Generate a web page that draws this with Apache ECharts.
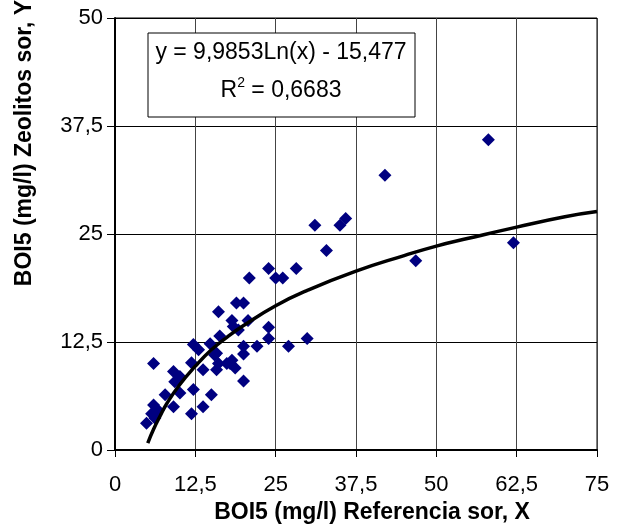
<!DOCTYPE html>
<html><head><meta charset="utf-8">
<script src="https://cdn.jsdelivr.net/npm/echarts@6/dist/echarts.min.js"></script>
<style>html,body{margin:0;padding:0;background:#fff}#c{width:620px;height:529px}</style>
</head><body><div id="c"></div>
<script>
// Observed points (BOI5 reference X, zeolite Y)
const pointX = [4.9,5.7,6.0,6.2,6.7,6.0,7.8,9.1,9.3,10.1,9.1,10.1,11.9,12.2,11.9,12.2,13.0,13.7,13.7,15.0,14.8,15.8,16.1,17.4,16.1,15.5,15.8,16.3,18.2,18.4,19.2,20.7,18.9,20.0,20.9,17.9,18.7,20.0,20.0,20.0,22.1,23.9,23.9,23.9,25.0,26.1,27.0,28.2,29.9,31.1,32.9,35.0,35.9,42.0,46.8,58.1,62.0,18.2];
const pointY = [3.1,4.2,5.2,3.7,4.6,10.0,6.4,9.1,7.9,8.5,5.0,6.6,4.2,7.0,10.1,12.2,11.6,9.3,5.0,6.4,12.3,11.2,10.0,10.0,16.0,11.0,9.3,13.2,15.0,14.3,13.9,15.0,17.0,17.0,19.9,10.0,9.5,8.0,11.1,12.0,12.0,21.0,14.2,12.9,19.9,19.9,12.0,21.0,12.9,26.0,23.1,26.0,26.8,31.8,21.9,35.9,24.0,10.4];
// Trend line
const trendX = [5.1,6,7,8,10,12.5,15,17.5,20,25,30,37.5,45,50,55,62.5,70,75];
const trendY = [0.8,2.4,3.9,5.3,7.5,9.7,11.6,13.1,14.4,16.7,18.5,20.7,22.5,23.6,24.5,25.8,27.0,27.6];
const tickLabels = ['0','12,5','25','37,5','50','62,5','75'];
const xTitle = 'BOI5 (mg/l) Referencia sor, X';
const yTitle = 'BOI5 (mg/l) Zeolitos sor, Y';
const eqLine1 = 'y = 9,9853Ln(x) - 15,477';

const FONT = 'Arial, "Liberation Sans", sans-serif';
const fmt = v => String(v).replace('.', ',');
const chart = echarts.init(document.getElementById('c'));
chart.setOption({
  animation: false,
  backgroundColor: '#fff',
  grid: {left: 115, right: 23, top: 18, bottom: 79, show: true, borderColor: '#000', borderWidth: 1},
  xAxis: {
    type: 'value', min: 0, max: 75, interval: 12.5,
    axisLine: {show: true, onZero: false, lineStyle: {color: '#000', width: 2}},
    axisTick: {show: true, length: 7, lineStyle: {color: '#000', width: 1}},
    splitLine: {show: true, lineStyle: {color: '#444', width: 1}},
    axisLabel: {color: '#000', fontSize: 22, fontFamily: FONT, margin: 24, formatter: fmt}
  },
  yAxis: {
    type: 'value', min: 0, max: 50, interval: 12.5,
    axisLine: {show: true, onZero: false, lineStyle: {color: '#000', width: 2}},
    axisTick: {show: true, length: 8, lineStyle: {color: '#000', width: 1}},
    splitLine: {show: true, lineStyle: {color: '#000', width: 1}},
    axisLabel: {color: '#000', fontSize: 22, fontFamily: FONT, margin: 12, formatter: fmt}
  },
  series: [
    {
      type: 'scatter', symbol: 'diamond', symbolSize: 13,
      itemStyle: {color: '#000080', opacity: 1},
      data: pointX.map((x, i) => [x, pointY[i]]), z: 3
    },
    {
      type: 'line', smooth: true, showSymbol: false, symbol: 'none',
      lineStyle: {color: '#000', width: 3.5},
      data: trendX.map((x, i) => [x, trendY[i]]), z: 4
    }
  ],
  graphic: [
    {type: 'rect', shape: {x: 148, y: 33, width: 267, height: 84}, style: {fill: '#fff', stroke: '#000', lineWidth: 1}, z: 10},
    {type: 'text', x: 281, y: 53, z: 11, style: {text: eqLine1, fontSize: 23, fontFamily: FONT, fill: '#000', align: 'center', verticalAlign: 'middle'}},
    {type: 'text', x: 281, y: 89, z: 11, style: {
      text: '{a|R}{s|2}{a| = 0,6683}', fontFamily: FONT, fill: '#000', align: 'center', verticalAlign: 'middle',
      rich: {a: {fontSize: 23, fontFamily: FONT, fill: '#000', lineHeight: 26, verticalAlign: 'bottom'},
             s: {fontSize: 14, fontFamily: FONT, fill: '#000', lineHeight: 26, verticalAlign: 'top', padding: [0, 0, 10, 0]}}
    }},
    {type: 'text', x: 372, y: 513, z: 11, style: {text: xTitle, fontSize: 23, fontWeight: 'bold', fontFamily: FONT, fill: '#000', align: 'center', verticalAlign: 'middle'}},
    {type: 'text', x: 25, y: 143, rotation: Math.PI / 2, z: 11, style: {text: yTitle, fontSize: 23, fontWeight: 'bold', fontFamily: FONT, fill: '#000', align: 'center', verticalAlign: 'middle'}}
  ]
});
</script></body></html>
